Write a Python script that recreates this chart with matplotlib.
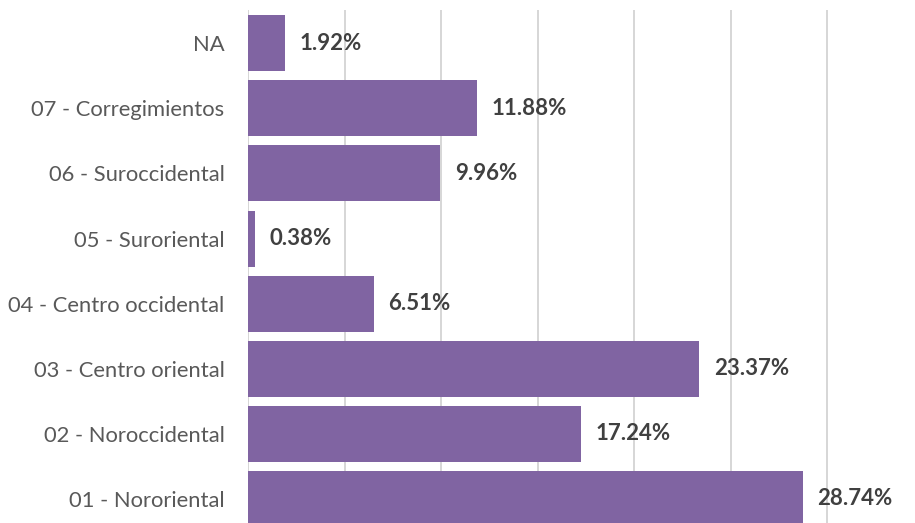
import numpy as np
import matplotlib.pyplot as plt

categories = ["01 - Nororiental", "02 - Noroccidental", "03 - Centro oriental",
              "04 - Centro occidental", "05 - Suroriental", "06 - Suroccidental",
              "07 - Corregimientos", "NA"]
values = [28.74, 17.24, 23.37, 6.51, 0.38, 9.96, 11.88, 1.92]

plt.rcParams['font.family'] = ['Lato', 'DejaVu Sans']

fig = plt.figure(figsize=(9.15, 5.23), dpi=100)
ax = fig.add_axes([248/915, 0, 667/915, 513/523])

y = np.arange(len(categories))
ax.barh(y, values, height=0.86, color='#8064A2', zorder=3)

for yi, v in zip(y, values):
    ax.text(v + 0.75, yi, f"{v:.2f}%", va='center', ha='left',
            fontsize=16, fontweight='bold', color='#404040')

ax.set_xlim(0, 34.54)
ax.set_ylim(-0.369, 7.51)
ax.set_xticks([0, 5, 10, 15, 20, 25, 30])
ax.xaxis.grid(True, color='#D0D0D0', linewidth=1.2, zorder=0)
ax.set_yticks(y)
ax.set_yticklabels(categories, fontsize=15.8, color='#595959')
ax.tick_params(axis='y', length=0, pad=17)
ax.tick_params(axis='x', length=0, labelbottom=False)
for s in ax.spines.values():
    s.set_visible(False)

fig.savefig("out.png", dpi=100)
